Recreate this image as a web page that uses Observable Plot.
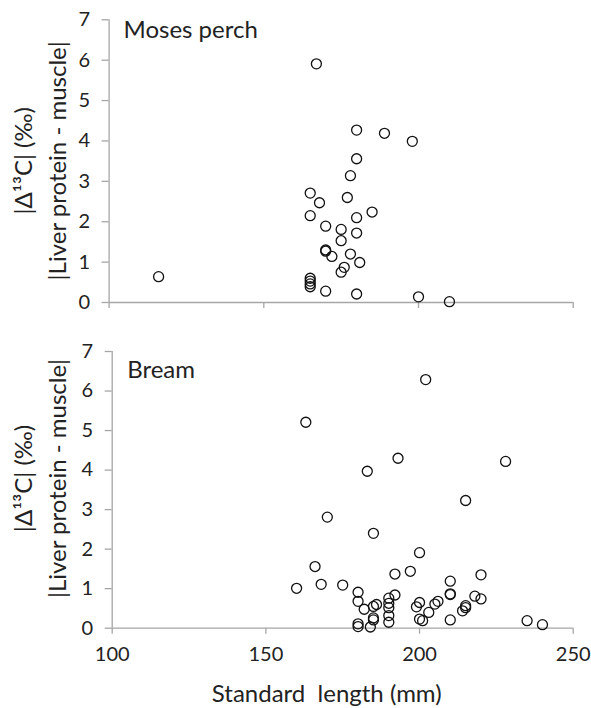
<!DOCTYPE html>
<html>
<head>
<meta charset="utf-8">
<script src="https://cdn.jsdelivr.net/npm/d3@7"></script>
<script src="https://cdn.jsdelivr.net/npm/@observablehq/plot@0.6"></script>
<style>
  html, body { margin: 0; padding: 0; background: #fff; }
  #chart { width: 591px; height: 708px; }
  #chart svg { display: block; }
</style>
</head>
<body>
<div id="chart"></div>
<script>
// Moses perch: standard length (mm) and |Δ13C| liver protein - muscle (‰)
const perchLength = [167, 180, 189, 198, 180, 178, 165, 177, 168, 185, 165, 180, 170, 175, 180, 175, 170, 170, 172, 178, 181, 176, 175, 165, 165, 165, 165, 170, 180, 200, 210, 116];
const perchDelta  = [5.91, 4.27, 4.19, 3.99, 3.56, 3.14, 2.71, 2.60, 2.47, 2.24, 2.15, 2.10, 1.89, 1.81, 1.72, 1.53, 1.30, 1.27, 1.14, 1.20, 0.99, 0.87, 0.75, 0.60, 0.53, 0.46, 0.39, 0.28, 0.21, 0.14, 0.02, 0.64];

// Bream
const breamLength = [202, 163, 193, 183, 228, 215, 170, 185, 200, 166, 197, 192, 220, 210, 160, 168, 175, 180, 210, 210, 192, 218, 220, 180, 190, 190, 190, 190, 190, 186, 185, 182, 200, 199, 206, 205, 215, 215, 214, 203, 185, 185, 200, 201, 210, 180, 180, 184, 235, 240];
const breamDelta  = [6.29, 5.21, 4.30, 3.97, 4.22, 3.23, 2.81, 2.40, 1.91, 1.56, 1.44, 1.37, 1.35, 1.19, 1.01, 1.11, 1.09, 0.91, 0.87, 0.85, 0.84, 0.81, 0.74, 0.68, 0.76, 0.63, 0.52, 0.32, 0.15, 0.60, 0.55, 0.48, 0.65, 0.54, 0.68, 0.61, 0.57, 0.52, 0.44, 0.40, 0.26, 0.21, 0.23, 0.19, 0.21, 0.11, 0.04, 0.03, 0.19, 0.09];

const xTicks = [100, 150, 200, 250];
const yTicks = [0, 1, 2, 3, 4, 5, 6, 7];
const panelTitles = ["Moses perch", "Bream"];
const yLabel1 = "|Δ¹³C| (‰)";
const yLabel2 = "|Liver protein - muscle|";
const xLabel = "Standard\u00a0 length (mm)";

const FONT = "Lato, 'Open Sans', sans-serif";
const TEXT = "#222";
const AXIS = "#a6a6a6";

function panel({lengths, deltas, title, height, marginLeft, marginTop, marginBottom, showXLabels, titleDx, titleDy, labDy}) {
  const data = lengths.map((l, i) => ({l, d: deltas[i]}));
  return Plot.plot({
    width: 591,
    height,
    marginLeft,
    marginRight: 18.3,
    marginTop,
    marginBottom,
    style: {fontFamily: FONT, color: TEXT, background: "#fff", overflow: "visible"},
    x: {domain: [100, 250]},
    y: {domain: [0, 7]},
    marks: [
      Plot.ruleY([0], {stroke: AXIS, strokeWidth: 1.3}),
      Plot.ruleX([100], {stroke: AXIS, strokeWidth: 1.3}),
      Plot.axisY({ticks: yTicks, tickSize: 7, tickPadding: 12, stroke: AXIS, strokeWidth: 1.3, strokeOpacity: 1, fontSize: 20, fill: TEXT, label: null, tickFormat: d => d}),
      Plot.axisX({ticks: xTicks, tickSize: 6, tickPadding: 13, stroke: AXIS, strokeWidth: 1.3, strokeOpacity: 1, fontSize: 20, fill: TEXT, label: null,
                  tickFormat: showXLabels ? (d => d) : (() => "")}),
      Plot.dot(data, {x: "l", y: "d", r: 5, stroke: "#111", strokeWidth: 1.3, fill: "none"}),
      Plot.text([title], {frameAnchor: "top-left", dx: titleDx, dy: titleDy, textAnchor: "start", lineAnchor: "middle", fontSize: 24, fill: TEXT}),
      Plot.text([yLabel1], {frameAnchor: "top-left", dx: 24 - marginLeft, dy: labDy, rotate: -90, textAnchor: "middle", lineAnchor: "middle", fontSize: 24, fill: TEXT}),
      Plot.text([yLabel2], {frameAnchor: "top-left", dx: 58 - marginLeft, dy: labDy, rotate: -90, textAnchor: "middle", lineAnchor: "middle", fontSize: 24, fill: TEXT}),
      ...(showXLabels ? [Plot.text([xLabel], {frameAnchor: "bottom", dx: -16, dy: 66.3, textAnchor: "middle", lineAnchor: "middle", fontSize: 24, fill: TEXT})] : [])
    ]
  });
}

const topPanel = panel({lengths: perchLength, deltas: perchDelta, title: panelTitles[0], height: 320, marginLeft: 108.6, marginTop: 19.3, marginBottom: 18, showXLabels: false, titleDx: 14.4, titleDy: 10.7, labDy: 141});
const bottomPanel = panel({lengths: breamLength, deltas: breamDelta, title: panelTitles[1], height: 388, marginLeft: 111.7, marginTop: 31, marginBottom: 80.3, showXLabels: true, titleDx: 15, titleDy: 19.3, labDy: 127});
document.getElementById("chart").append(topPanel, bottomPanel);
</script>
</body>
</html>
